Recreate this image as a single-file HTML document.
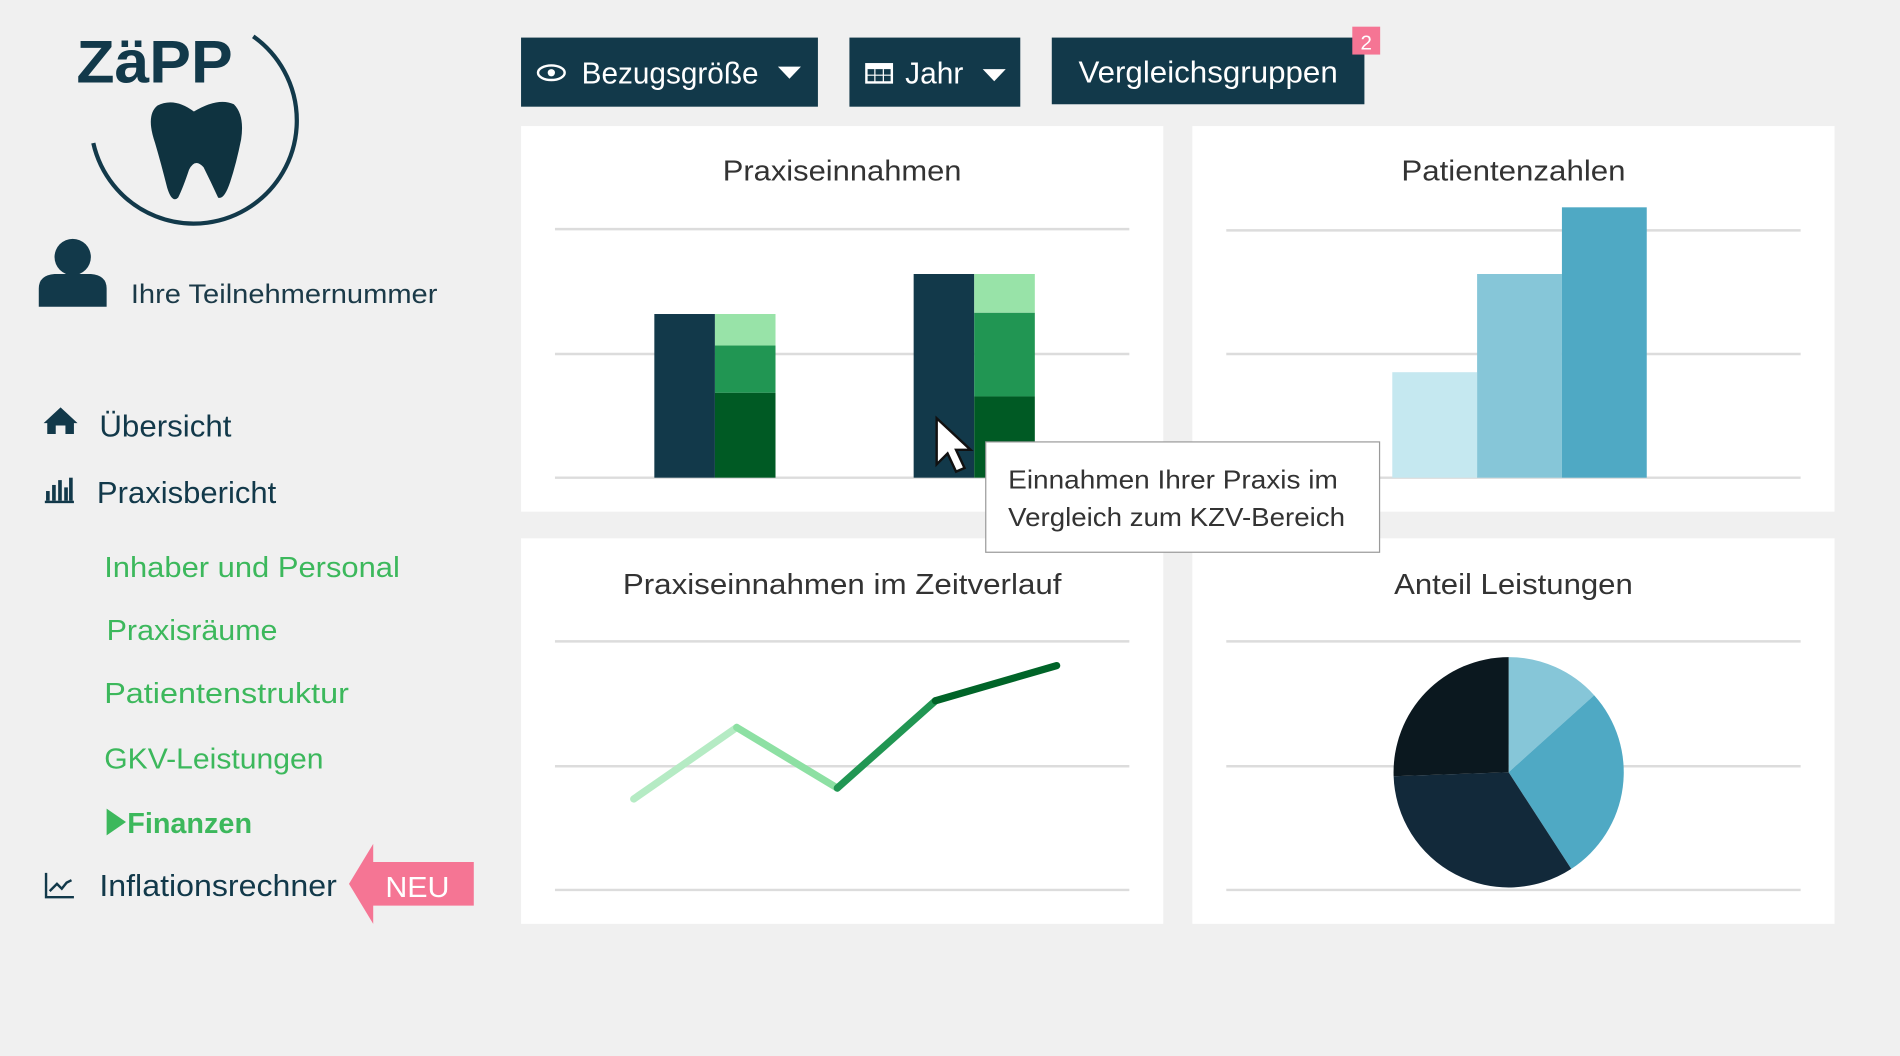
<!DOCTYPE html>
<html><head><meta charset="utf-8"><style>
html,body{margin:0;padding:0;background:#f0f0f0;overflow:hidden}
svg{display:block}
text{font-family:"Liberation Sans",sans-serif}
</style></head><body>
<svg width="1900" height="1056" viewBox="0 0 1568 871" preserveAspectRatio="none" xmlns="http://www.w3.org/2000/svg">
<rect width="1568" height="871" fill="#f0f0f0"/>
<!-- Logo -->
<text x="63" y="68" font-size="50" font-weight="bold" fill="#12394a" textLength="129" lengthAdjust="spacingAndGlyphs">ZäPP</text>
<path d="M209 30 A85 85 0 1 1 77 118" fill="none" stroke="#12394a" stroke-width="3.5"/>
<path d="M160 92 Q180 80 193 86 Q202 95 199 115 Q195 135 190 150 Q185 165 180 163 Q174 150 168 138 Q161 130 156 140 Q151 155 147 163 Q142 168 138 155 Q133 135 128 118 Q120 95 130 87 Q144 80 160 92 Z" fill="#0f3340"/>
<!-- person -->
<circle cx="60" cy="212" r="15" fill="#12394a"/>
<path d="M32 253 V238 Q32 227 45 226 H75 Q88 227 88 238 V253 Z" fill="#12394a"/>
<text x="108" y="250" font-size="22" fill="#1b3a48" textLength="253" lengthAdjust="spacingAndGlyphs">Ihre Teilnehmernummer</text>
<!-- nav -->
<path d="M36 349 L50 336 L64 349 L61 349 L61 358 L54 358 L54 351 L46 351 L46 358 L39 358 L39 349 Z" fill="#12394a"/>
<text x="82" y="360" font-size="25" fill="#12394a" textLength="109" lengthAdjust="spacingAndGlyphs">Übersicht</text>
<g fill="#12394a"><rect x="38" y="405" width="3" height="8"/><rect x="43" y="400" width="3" height="13"/><rect x="48" y="396" width="3" height="17"/><rect x="53" y="402" width="3" height="11"/><rect x="57" y="394" width="3" height="19"/><rect x="37" y="413" width="24" height="2"/></g>
<text x="80" y="415" font-size="25" fill="#12394a" textLength="148" lengthAdjust="spacingAndGlyphs">Praxisbericht</text>
<g fill="#3cb85c" font-size="24">
<text x="86" y="476" textLength="244" lengthAdjust="spacingAndGlyphs">Inhaber und Personal</text>
<text x="88" y="528" textLength="141" lengthAdjust="spacingAndGlyphs">Praxisräume</text>
<text x="86" y="580" textLength="202" lengthAdjust="spacingAndGlyphs">Patientenstruktur</text>
<text x="86" y="634" textLength="181" lengthAdjust="spacingAndGlyphs">GKV-Leistungen</text>
<path d="M88 667 L104 678 L88 689 Z"/>
<text x="105" y="687" font-weight="bold" textLength="103" lengthAdjust="spacingAndGlyphs">Finanzen</text>
</g>
<path d="M38 720 V740 H61 M41 735 L47 729 L51 733 L55 728 L59 726" fill="none" stroke="#12394a" stroke-width="2"/>
<text x="82" y="739" font-size="25" fill="#12394a" textLength="196" lengthAdjust="spacingAndGlyphs">Inflationsrechner</text>
<path d="M288 729 L308 696 V711 H391 V747 H308 V762 Z" fill="#f57594"/>
<text x="318" y="740" font-size="24" fill="#fff" textLength="53" lengthAdjust="spacingAndGlyphs">NEU</text>
<!-- buttons -->
<rect x="430" y="31" width="245" height="57" fill="#12394a"/>
<ellipse cx="455" cy="60" rx="11" ry="6" fill="none" stroke="#fff" stroke-width="2"/><circle cx="455" cy="60" r="3" fill="#fff"/>
<text x="480" y="69" font-size="25" fill="#fff" textLength="146" lengthAdjust="spacingAndGlyphs">Bezugsgröße</text>
<path d="M642 55 L661 55 L651.5 65 Z" fill="#fff"/>
<rect x="701" y="31" width="141" height="57" fill="#12394a"/>
<rect x="715" y="53" width="21" height="15" fill="none" stroke="#fff" stroke-width="2"/><rect x="715" y="53" width="21" height="4" fill="#fff"/>
<path d="M715 62 H736 M722 57 V68 M729 57 V68" stroke="#fff" stroke-width="1"/>
<text x="747" y="69" font-size="25" fill="#fff" textLength="48" lengthAdjust="spacingAndGlyphs">Jahr</text>
<path d="M811 57 L830 57 L820.5 67 Z" fill="#fff"/>
<rect x="868" y="31" width="258" height="55" fill="#12394a"/>
<text x="890" y="68" font-size="25" fill="#fff" textLength="214" lengthAdjust="spacingAndGlyphs">Vergleichsgruppen</text>
<rect x="1116" y="22" width="23" height="23" fill="#f57594"/>
<text x="1127.5" y="41" font-size="17" fill="#fff" text-anchor="middle">2</text>
<!-- panels -->
<g fill="#fff"><rect x="430" y="104" width="530" height="318"/><rect x="984" y="104" width="530" height="318"/><rect x="430" y="444" width="530" height="318"/><rect x="984" y="444" width="530" height="318"/></g>
<g stroke="#dcdcdc" stroke-width="2">
<path d="M458 189H932M458 292H932M458 394H932M1012 190H1486M1012 292H1486M1012 394H1486M458 529H932M458 632H932M458 734H932M1012 529H1486M1012 632H1486M1012 734H1486"/>
</g>
<g font-size="24" fill="#333" text-anchor="middle">
<text x="695" y="149" textLength="197" lengthAdjust="spacingAndGlyphs">Praxiseinnahmen</text>
<text x="1249" y="149" textLength="185" lengthAdjust="spacingAndGlyphs">Patientenzahlen</text>
<text x="695" y="490" textLength="362" lengthAdjust="spacingAndGlyphs">Praxiseinnahmen im Zeitverlauf</text>
<text x="1249" y="490" textLength="197" lengthAdjust="spacingAndGlyphs">Anteil Leistungen</text>
</g>
<!-- bars -->
<rect x="540" y="259" width="50" height="135" fill="#12394a"/>
<rect x="590" y="259" width="50" height="26" fill="#98e3a8"/>
<rect x="590" y="285" width="50" height="39" fill="#219653"/>
<rect x="590" y="324" width="50" height="70" fill="#005a24"/>
<rect x="754" y="226" width="50" height="168" fill="#12394a"/>
<rect x="804" y="226" width="50" height="32" fill="#98e3a8"/>
<rect x="804" y="258" width="50" height="69" fill="#219653"/>
<rect x="804" y="327" width="50" height="67" fill="#005a24"/>
<rect x="1149" y="307" width="70" height="87" fill="#c5e8f0"/>
<rect x="1219" y="226" width="70" height="168" fill="#86c6d8"/>
<rect x="1289" y="171" width="70" height="223" fill="#4fa9c4"/>
<!-- cursor -->
<path d="M773 345 L773 383 L782 374 L789 389 L796 386 L789 371 L801 371 Z" fill="#fff" stroke="#111" stroke-width="2"/>
<!-- tooltip -->
<rect x="813.5" y="364.5" width="325" height="91" fill="#fff" stroke="#9a9a9a"/>
<g font-size="21" fill="#333">
<text x="832" y="403" textLength="272" lengthAdjust="spacingAndGlyphs">Einnahmen Ihrer Praxis im</text>
<text x="832" y="434" textLength="278" lengthAdjust="spacingAndGlyphs">Vergleich zum KZV-Bereich</text>
</g>
<!-- line -->
<g stroke-width="6" stroke-linecap="round" fill="none">
<path d="M523 659 L608 600" stroke="#b5ebc4"/>
<path d="M608 600 L691 650" stroke="#8de0a3"/>
<path d="M691 650 L772 578" stroke="#219653"/>
<path d="M772 578 L872 549" stroke="#006428"/>
</g>
<!-- pie -->
<path d="M1245 637 L1245 542 A95 95 0 0 1 1315.6 573.4 Z" fill="#86c6d8"/>
<path d="M1245 637 L1315.6 573.4 A95 95 0 0 1 1296.7 716.7 Z" fill="#4fa9c4"/>
<path d="M1245 637 L1296.7 716.7 A95 95 0 0 1 1150.1 640.3 Z" fill="#12293a"/>
<path d="M1245 637 L1150.1 640.3 A95 95 0 0 1 1245 542 Z" fill="#0b181f"/>
</svg>
</body></html>
